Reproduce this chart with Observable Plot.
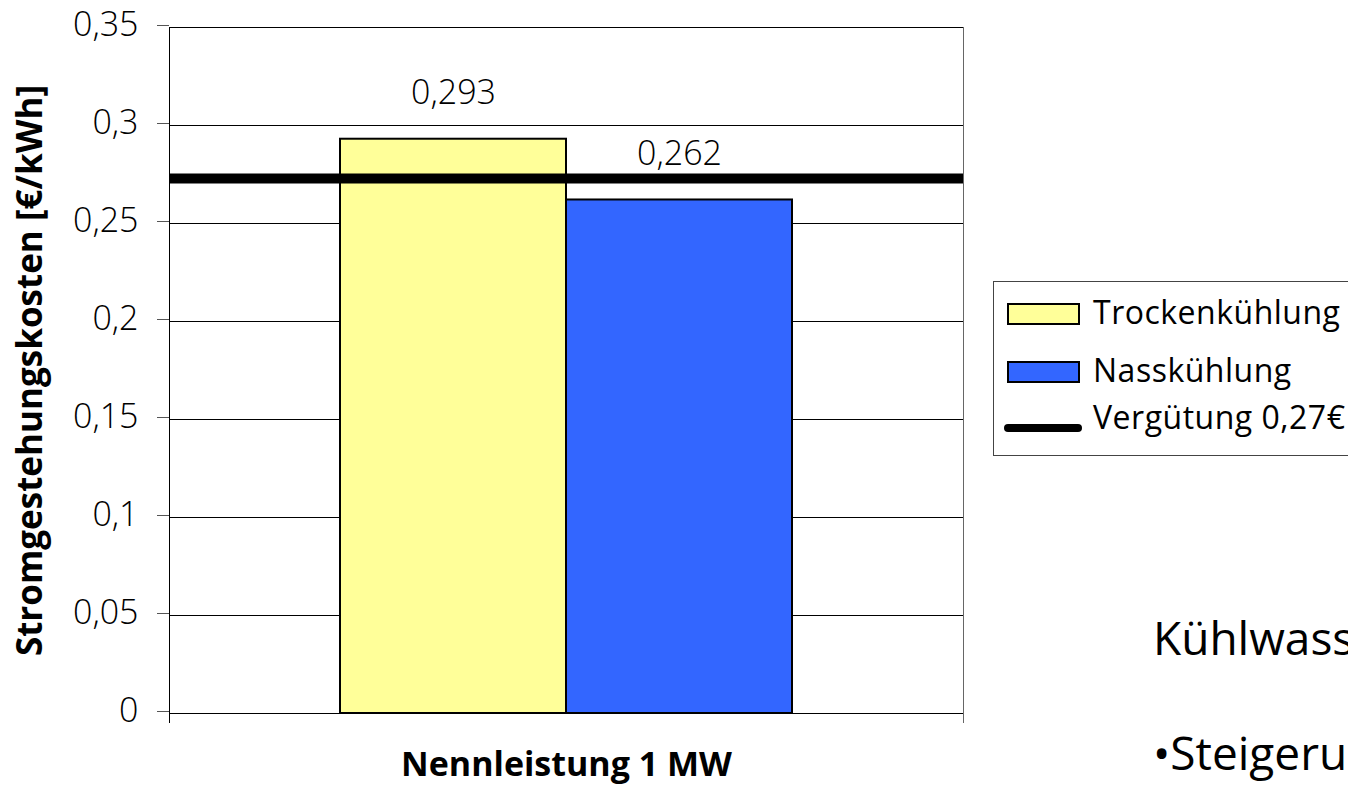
<!DOCTYPE html>
<html>
<head>
<meta charset="utf-8">
<script src="https://cdn.jsdelivr.net/npm/d3@7"></script>
<script src="https://cdn.jsdelivr.net/npm/@observablehq/plot@0.6"></script>
<style>
  html, body { margin: 0; padding: 0; background: #fff; overflow: hidden; }
  #wrap { position: relative; width: 1348px; height: 786px; overflow: hidden; font-family: "Open Sans", "DejaVu Sans", sans-serif; }
  #wrap svg { position: absolute; left: 0; top: 0; overflow: visible; }
  .legend { position: absolute; left: 993px; top: 281px; width: 400px; height: 175px; border: 1px solid #444; box-sizing: border-box; background: #fff; }
  .item { position: absolute; font-size: 32px; line-height: 32px; height: 32px; color: #000; white-space: nowrap; letter-spacing: 0.5px; }
  .sw { position: absolute; border: 2px solid #000; box-sizing: border-box; }
  .ln { position: absolute; height: 8px; background: #000; border-radius: 4px; }
  .slide { position: absolute; left: 1153px; font-size: 46px; line-height: 46px; height: 46px; color: #000; white-space: nowrap; }
</style>
</head>
<body>
<div id="wrap"></div>
<script>
const series = ["Trockenkühlung", "Nasskühlung"];
const values = [0.293, 0.262];
const valueLabels = ["0,293", "0,262"];
const colors = ["#FFFF99", "#3366FF"];
const threshold = 0.273;
const thresholdLabel = "Vergütung 0,27€";
const yTicks = [0, 0.05, 0.1, 0.15, 0.2, 0.25, 0.3, 0.35];
const yTickLabels = ["0", "0,05", "0,1", "0,15", "0,2", "0,25", "0,3", "0,35"];
const yTitle = "Stromgestehungskosten [€/kWh]";
const xTitle = "Nennleistung 1 MW";
const slideTexts = ["Kühlwass", "•Steigeru"];

const data = series.map((s, i) => ({series: s, value: values[i], label: valueLabels[i]}));
const fmt = d => yTickLabels[yTicks.indexOf(d)] ?? String(d).replace(".", ",");

const chart = Plot.plot({
  width: 1348,
  height: 786,
  marginLeft: 169,
  marginRight: 385,
  marginTop: 27,
  marginBottom: 73,
  style: {fontFamily: '"Open Sans", "DejaVu Sans", sans-serif', color: "#000", background: "transparent", overflow: "visible"},
  x: {domain: series, paddingInner: 0, paddingOuter: 0.75, axis: null},
  y: {domain: [0, 0.35]},
  color: {domain: series, range: colors},
  marks: [
    Plot.gridY(yTicks, {stroke: "#000", strokeOpacity: 1, strokeWidth: 1}),
    Plot.axisY(yTicks, {tickSize: 12, tickPadding: 19, tickFormat: fmt, fontSize: 34, fontWeight: 300, label: null, stroke: "#555", dy: -2}),
    Plot.frame({anchor: "left", insetBottom: -9, stroke: "#000"}),
    Plot.frame({anchor: "right", insetBottom: -9, stroke: "#666"}),
    Plot.barY(data, {x: "series", y: "value", fill: "series", stroke: "#000", strokeWidth: 2}),
    Plot.ruleY([threshold], {stroke: "#000", strokeWidth: 10}),
    Plot.text(data, {x: "series", y: "value", text: "label", dy: -46, fontSize: 34, fontWeight: 300, fill: "#000", lineAnchor: "middle"}),
    Plot.text([yTitle], {frameAnchor: "left", y: [0.175], text: d => d, rotate: -90, dx: -139, textAnchor: "middle", lineAnchor: "middle", fontSize: 35, letterSpacing: 0.8, fontWeight: "bold", fill: "#000"}),
    Plot.text([xTitle], {frameAnchor: "bottom", text: d => d, dy: 52, textAnchor: "middle", lineAnchor: "middle", fontSize: 34, fontWeight: "bold", fill: "#000"})
  ]
});
const wrap = document.getElementById("wrap");
wrap.appendChild(chart);

// Legend (to the right of the plot)
const legend = document.createElement("div");
legend.className = "legend";
const L = 993, T = 281;
const rows = [
  {type: "sw", color: colors[0], text: series[0], cy: 313, baseline: 323},
  {type: "sw", color: colors[1], text: series[1], cy: 371, baseline: 381},
  {type: "ln", text: thresholdLabel, cy: 427, baseline: 428}
];
rows.forEach(r => {
  if (r.type === "sw") {
    const s = document.createElement("div");
    s.className = "sw";
    s.style.left = (1006 - L) + "px";
    s.style.top = (r.cy - 11 - T) + "px";
    s.style.width = "73px";
    s.style.height = "22px";
    s.style.background = r.color;
    legend.appendChild(s);
  } else {
    const l = document.createElement("div");
    l.className = "ln";
    l.style.left = (1003 - L) + "px";
    l.style.width = "78px";
    l.style.top = (r.cy - 4 - T) + "px";
    legend.appendChild(l);
  }
  const t = document.createElement("div");
  t.className = "item";
  t.style.left = (1092 - L) + "px";
  t.style.top = (r.baseline - 0.888 * 32 - T) + "px";
  t.textContent = r.text;
  legend.appendChild(t);
});
wrap.appendChild(legend);

// Clipped slide text at bottom right (cut by the page edge, as in the original slide)
[[slideTexts[0], 655], [slideTexts[1], 770]].forEach(([txt, baseline]) => {
  const d = document.createElement("div");
  d.className = "slide";
  d.style.top = (baseline - 0.888 * 46) + "px";
  d.textContent = txt;
  wrap.appendChild(d);
});
</script>
</body>
</html>
